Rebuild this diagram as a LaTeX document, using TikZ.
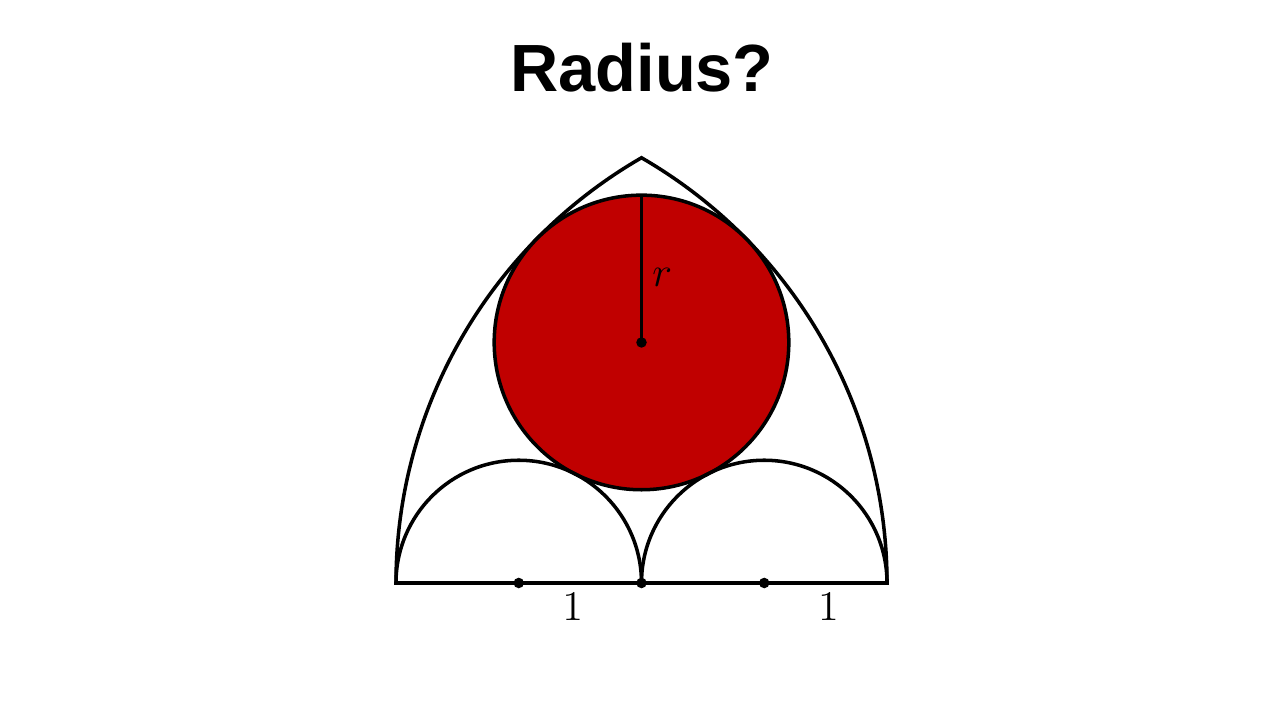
\documentclass[tikz,border=0pt]{standalone}
\usepackage{amsmath,amsfonts}
\usepackage{fontspec}
\newfontfamily\titlefont{Liberation Sans}
\usepackage{tikz}
\definecolor{discred}{RGB}{192,0,0}

\begin{document}
\begin{tikzpicture}[x=1.2275cm,y=1.2275cm,
                edge/.style={draw=black,line width=1pt,line join=miter},
                disc/.style={edge,fill=discred},
                dot/.style={circle,fill=black,inner sep=0pt,minimum size=3pt},
                lab/.style={font=\fontsize{11.5}{13}\selectfont,inner sep=0pt},
                title/.style={font=\titlefont\bfseries\fontsize{19}{23}\selectfont,inner sep=0pt}
            ]
                \useasboundingbox (-6.415cm,-1.37cm) rectangle (6.385cm,5.83cm);
                \coordinate (A) at (-2,0);
                \coordinate (B) at (2,0);
                \coordinate (O) at (0,0);
                \coordinate (M1) at (-1,0);
                \coordinate (M2) at (1,0);
                \coordinate (C) at (0,1.9596);
                \coordinate (T) at (0,3.1596);
                \node[title,anchor=base] (head) at (0.005cm,4.91cm) {Radius?};
                \draw[edge] (A) -- (B) arc[start angle=0,end angle=60,radius=4]
                    arc[start angle=120,end angle=180,radius=4] -- cycle;
                \draw[disc] (C) circle[radius=1.2];
                \draw[edge] (A) arc[start angle=180,end angle=0,radius=1];
                \draw[edge] (O) arc[start angle=180,end angle=0,radius=1];
                \draw[edge] (C) -- (T);
                \foreach \p in {M1,O,M2,C}
                    {
                    \node[dot] at (\p) { };
                }
                \node[lab] (rlab) at (0.17,2.493) {$r$};
                \node[lab] (one1) at (-0.56,-0.1955) {$1$};
                \node[lab] (one2) at (1.522,-0.1955) {$1$};

            \end{tikzpicture}
\end{document}
